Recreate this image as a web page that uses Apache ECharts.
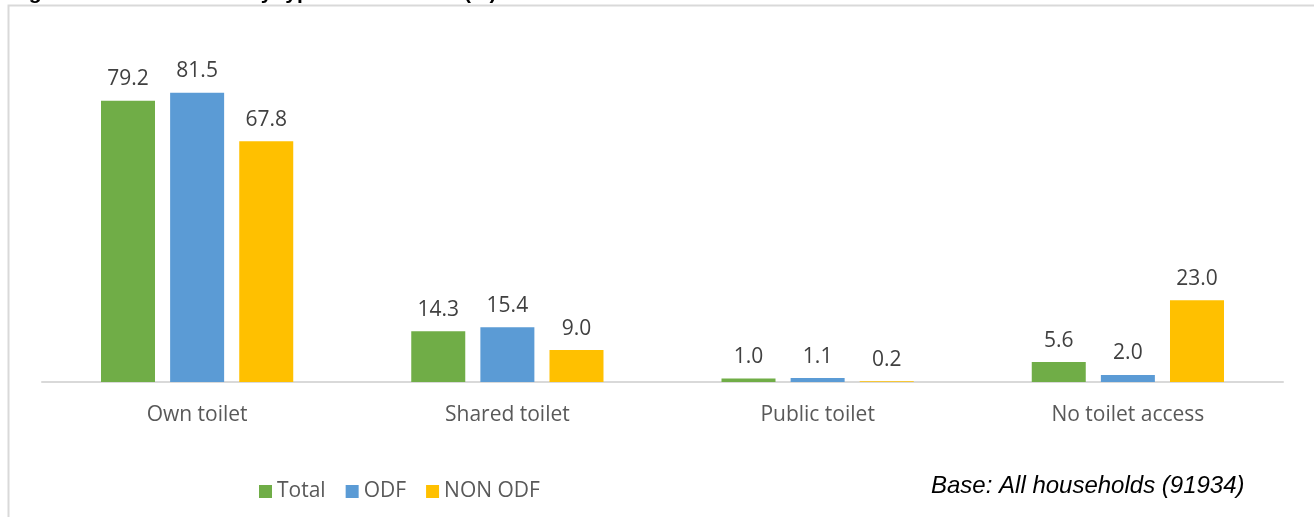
<!DOCTYPE html>
<html>
<head>
<meta charset="utf-8">
<script src="https://cdn.jsdelivr.net/npm/echarts@6/dist/echarts.min.js"></script>
<style>
  html, body { margin: 0; padding: 0; background: #ffffff; }
  #chart { width: 1314px; height: 517px; }
</style>
</head>
<body>
<div id="chart"></div>
<script>
// Toilet access by household type, percent
const categories = ['Own toilet', 'Shared toilet', 'Public toilet', 'No toilet access'];
const totalValues = [79.2, 14.3, 1.0, 5.6];
const odfValues = [81.5, 15.4, 1.1, 2.0];
const nonOdfValues = [67.8, 9.0, 0.2, 23.0];
const seriesNames = ['Total', 'ODF', 'NON ODF'];
const seriesColors = ['#70ad47', '#5b9bd5', '#ffc000'];
const titleText = 'Figure 4.1: Households by type of toilet used (%)';
const baseNote = 'Base: All households (91934)';

const chart = echarts.init(document.getElementById('chart'), null, { renderer: 'canvas' });

const labelFont = '"Open Sans", sans-serif';

function barSeries(name, values, color) {
  return {
    name: name,
    type: 'bar',
    data: values,
    barWidth: 54,
    barGap: '28%',
    itemStyle: { color: color },
    label: {
      show: true,
      position: 'top',
      distance: 11,
      color: '#404040',
      fontFamily: labelFont,
      fontSize: 21,
      formatter: p => p.value.toFixed(1)
    },
    emphasis: { disabled: true }
  };
}

chart.setOption({
  animation: false,
  backgroundColor: '#ffffff',
  grid: { left: 42, right: 31, top: 27, bottom: 135, containLabel: false },
  xAxis: {
    type: 'category',
    data: categories,
    axisLine: { lineStyle: { color: '#d9d9d9', width: 2 } },
    axisTick: { show: false },
    axisLabel: {
      margin: 23,
      color: '#595959',
      fontFamily: labelFont,
      fontSize: 21
    }
  },
  yAxis: {
    type: 'value',
    min: 0,
    max: 100,
    show: false,
    splitLine: { show: false }
  },
  legend: {
    data: seriesNames,
    left: 254,
    top: 476,
    itemWidth: 13,
    itemHeight: 13,
    itemGap: 20,
    icon: 'rect',
    textStyle: { color: '#595959', fontFamily: labelFont, fontSize: 21, padding: [0, 0, 0, 0] }
  },
  graphic: [
    {
      type: 'rect',
      shape: { x: 8.5, y: 5.5, width: 1400, height: 600 },
      style: { fill: 'none', stroke: '#d9d9d9', lineWidth: 2 },
      silent: true
    },
    {
      type: 'text',
      x: 10,
      y: 4,
      style: {
        text: titleText,
        font: 'bold 21px "Liberation Sans", Arial, sans-serif',
        fill: '#000000',
        verticalAlign: 'bottom'
      },
      silent: true
    },
    {
      type: 'text',
      x: 931,
      y: 486,
      style: {
        text: baseNote,
        font: 'italic 24px "Liberation Sans", Arial, sans-serif',
        fill: '#000000',
        verticalAlign: 'middle'
      },
      silent: true
    }
  ],
  series: [
    barSeries(seriesNames[0], totalValues, seriesColors[0]),
    barSeries(seriesNames[1], odfValues, seriesColors[1]),
    barSeries(seriesNames[2], nonOdfValues, seriesColors[2])
  ]
});
</script>
</body>
</html>
